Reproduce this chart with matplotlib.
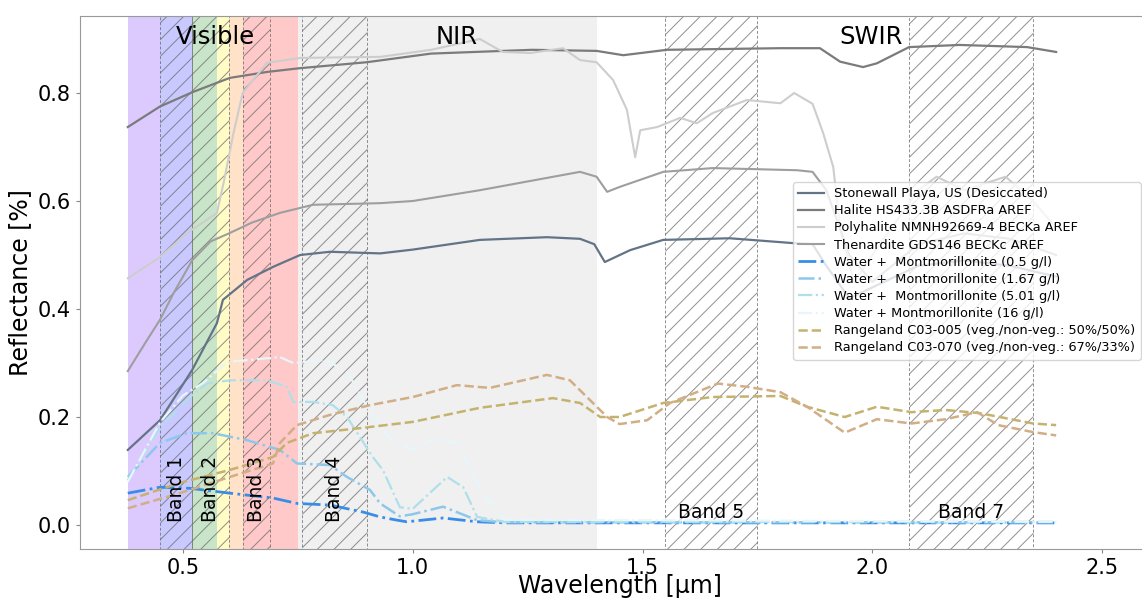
import matplotlib
matplotlib.use("Agg")
import matplotlib.pyplot as plt

# spectral regions (um) and their colours
vis_edges = [0.38, 0.45, 0.52, 0.575, 0.60, 0.63, 0.75]
vis_colors = ['#dccaff', '#c9c9ff', '#c9e5c9', '#fffcc6', '#ffe2c8', '#ffc9c9']
nir_range = [0.75, 1.40]

band_names = ['Band 1', 'Band 2', 'Band 3', 'Band 4', 'Band 5', 'Band 7']
band_lo = [0.45, 0.52, 0.63, 0.76, 1.55, 2.08]
band_hi = [0.52, 0.60, 0.69, 0.90, 1.75, 2.35]
band_rot = [90, 90, 90, 90, 0, 0]

# spectra: wavelength [um], reflectance
stonewall_w = [0.38, 0.45, 0.52, 0.574, 0.587, 0.64, 0.696, 0.755, 0.82, 0.929, 1.0, 1.146,
               1.292, 1.364, 1.395, 1.418, 1.473, 1.545, 1.69, 1.828, 1.87, 1.9, 1.95, 2.0,
               2.1, 2.2, 2.3, 2.4]
stonewall_r = [0.139, 0.194, 0.287, 0.374, 0.417, 0.454, 0.478, 0.50, 0.506, 0.503, 0.51, 0.528,
               0.533, 0.53, 0.52, 0.487, 0.509, 0.528, 0.531, 0.522, 0.52, 0.48, 0.42, 0.44,
               0.48, 0.49, 0.48, 0.46]

halite_w = [0.38, 0.45, 0.522, 0.602, 0.683, 0.755, 0.90, 1.04, 1.26, 1.40, 1.458, 1.553,
            1.80, 1.886, 1.93, 1.98, 2.01, 2.08, 2.19, 2.337, 2.40]
halite_r = [0.737, 0.775, 0.802, 0.828, 0.839, 0.846, 0.857, 0.873, 0.880, 0.878, 0.870, 0.880,
            0.883, 0.883, 0.858, 0.848, 0.855, 0.885, 0.889, 0.885, 0.876]

polyhalite_w = [0.38, 0.45, 0.508, 0.574, 0.59, 0.61, 0.63, 0.683, 0.755, 0.93, 1.04, 1.146,
                1.196, 1.255, 1.327, 1.364, 1.40, 1.436, 1.466, 1.484, 1.495, 1.532, 1.582,
                1.618, 1.653, 1.727, 1.80, 1.83, 1.87, 1.893, 1.915, 1.93, 1.96, 2.0, 2.1,
                2.14, 2.2, 2.29, 2.35, 2.4]
polyhalite_r = [0.457, 0.496, 0.54, 0.578, 0.64, 0.726, 0.80, 0.856, 0.865, 0.867, 0.88, 0.90,
                0.876, 0.874, 0.883, 0.861, 0.857, 0.824, 0.769, 0.681, 0.731, 0.737, 0.754,
                0.744, 0.763, 0.787, 0.781, 0.80, 0.78, 0.726, 0.663, 0.55, 0.45, 0.5, 0.62,
                0.645, 0.62, 0.645, 0.6, 0.55]

thenardite_w = [0.38, 0.42, 0.45, 0.48, 0.52, 0.56, 0.60, 0.65, 0.711, 0.783, 0.929, 1.0,
                1.146, 1.364, 1.40, 1.423, 1.45, 1.545, 1.653, 1.836, 1.87, 1.9, 1.95, 2.0,
                2.1, 2.2, 2.3, 2.4]
thenardite_r = [0.285, 0.34, 0.38, 0.43, 0.49, 0.525, 0.54, 0.56, 0.578, 0.593, 0.596, 0.60,
                0.62, 0.654, 0.645, 0.617, 0.626, 0.654, 0.661, 0.657, 0.654, 0.62, 0.5, 0.45,
                0.52, 0.54, 0.53, 0.5]

water05_w = [0.38, 0.45, 0.515, 0.602, 0.696, 0.748, 0.82, 0.892, 0.929, 0.966, 0.987, 1.066,
             1.14, 1.2, 1.5, 2.0, 2.4]
water05_r = [0.059, 0.070, 0.068, 0.059, 0.05, 0.04, 0.037, 0.024, 0.015, 0.009, 0.006, 0.013,
             0.006, 0.004, 0.004, 0.004, 0.004]

water167_w = [0.38, 0.45, 0.508, 0.565, 0.64, 0.711, 0.748, 0.82, 0.857, 0.907, 0.929, 0.972,
              1.0, 1.066, 1.14, 1.2, 2.4]
water167_r = [0.089, 0.152, 0.17, 0.17, 0.157, 0.139, 0.114, 0.111, 0.089, 0.065, 0.04, 0.016,
              0.02, 0.034, 0.009, 0.005, 0.005]

water501_w = [0.38, 0.45, 0.515, 0.552, 0.602, 0.683, 0.726, 0.74, 0.783, 0.826, 0.857, 0.913,
              0.935, 0.972, 1.0, 1.075, 1.11, 1.14, 1.2, 2.4]
water501_r = [0.083, 0.18, 0.237, 0.262, 0.268, 0.268, 0.256, 0.228, 0.228, 0.222, 0.2, 0.126,
              0.102, 0.033, 0.03, 0.089, 0.07, 0.015, 0.006, 0.006]

water16_w = [0.38, 0.45, 0.5, 0.544, 0.596, 0.711, 0.74, 0.813, 0.86, 0.9, 0.95, 1.0, 1.05,
             1.1, 1.15, 1.2, 2.4]
water16_r = [0.08, 0.19, 0.24, 0.263, 0.302, 0.311, 0.30, 0.306, 0.28, 0.22, 0.16, 0.14, 0.16,
             0.15, 0.06, 0.01, 0.006]

range005_w = [0.38, 0.493, 0.602, 0.696, 0.726, 0.783, 0.892, 1.0, 1.146, 1.305, 1.364, 1.408,
              1.45, 1.545, 1.653, 1.80, 1.858, 1.94, 2.01, 2.085, 2.16, 2.235, 2.35, 2.40]
range005_r = [0.046, 0.078, 0.102, 0.126, 0.152, 0.17, 0.18, 0.191, 0.217, 0.235, 0.226, 0.2,
              0.2, 0.226, 0.237, 0.239, 0.219, 0.2, 0.219, 0.209, 0.213, 0.207, 0.188, 0.185]

range070_w = [0.38, 0.493, 0.602, 0.696, 0.711, 0.748, 0.82, 0.907, 1.0, 1.096, 1.168, 1.292,
              1.342, 1.379, 1.423, 1.45, 1.51, 1.56, 1.664, 1.727, 1.80, 1.858, 1.94, 2.01,
              2.085, 2.16, 2.228, 2.274, 2.35, 2.40]
range070_r = [0.031, 0.059, 0.089, 0.114, 0.152, 0.185, 0.204, 0.222, 0.237, 0.259, 0.254, 0.278,
              0.268, 0.237, 0.2, 0.187, 0.194, 0.226, 0.262, 0.256, 0.246, 0.219, 0.171, 0.196,
              0.188, 0.196, 0.209, 0.185, 0.172, 0.166]

series = [
    ('Stonewall Playa, US (Desiccated)', stonewall_w, stonewall_r, '#637487', '-', 1.6),
    ('Halite HS433.3B ASDFRa AREF', halite_w, halite_r, '#7b7b7b', '-', 1.6),
    ('Polyhalite NMNH92669-4 BECKa AREF', polyhalite_w, polyhalite_r, '#cdcdcd', '-', 1.5),
    ('Thenardite GDS146 BECKc AREF', thenardite_w, thenardite_r, '#9e9e9e', '-', 1.5),
    ('Water +  Montmorillonite (0.5 g/l)', water05_w, water05_r, '#3a8de6', '-.', 2.0),
    ('Water +  Montmorillonite (1.67 g/l)', water167_w, water167_r, '#8dc8ea', '-.', 1.8),
    ('Water +  Montmorillonite (5.01 g/l)', water501_w, water501_r, '#ade0ea', '-.', 1.6),
    ('Water + Montmorillonite (16 g/l)', water16_w, water16_r, '#e6f6fa', '-.', 1.6),
    ('Rangeland C03-005 (veg./non-veg.: 50%/50%)', range005_w, range005_r, '#c4b26f', '--', 1.8),
    ('Rangeland C03-070 (veg./non-veg.: 67%/33%)', range070_w, range070_r, '#d1ae86', '--', 1.8),
]

plt.rcParams['hatch.linewidth'] = 0.7

fig = plt.figure(figsize=(11.42, 5.99), dpi=100)
ax = fig.add_axes([80 / 1142, 50 / 599, 1080 / 1142, 533 / 599])

# visible colour strips + NIR background
for lo, hi, c in zip(vis_edges[:-1], vis_edges[1:], vis_colors):
    ax.axvspan(lo, hi, color=c, lw=0, zorder=0)
ax.axvspan(nir_range[0], nir_range[1], color='#f0f0f0', lw=0, zorder=0)

# sensor bands
for name, lo, hi, rot in zip(band_names, band_lo, band_hi, band_rot):
    ax.axvspan(lo, hi, facecolor='none', edgecolor='#6a6a6a', hatch='//', lw=0.7,
               ls=(0, (3, 2)), alpha=0.75, zorder=1)
    ax.text((lo + hi) / 2, 0.006, name, rotation=rot, ha='center', va='bottom',
            fontsize=13.5, zorder=5)

for label, w, r, c, ls, lw in series:
    ax.plot(w, r, color=c, ls=ls, lw=lw, label=label, zorder=3)

ax.text(0.57, 0.904, 'Visible', ha='center', va='center', fontsize=17.5, zorder=5)
ax.text(1.096, 0.904, 'NIR', ha='center', va='center', fontsize=17.5, zorder=5)
ax.text(1.997, 0.904, 'SWIR', ha='center', va='center', fontsize=17.5, zorder=5)

ax.set_xlim(0.276, 2.626)
ax.set_ylim(-0.0444, 0.9426)
ax.set_xticks([0.5, 1.0, 1.5, 2.0, 2.5])
ax.set_yticks([0.0, 0.2, 0.4, 0.6, 0.8])
ax.tick_params(labelsize=15, length=3, color='#888888')
for s in ax.spines.values():
    s.set_color('#999999')
ax.set_xlabel('Wavelength [µm]', fontsize=17, labelpad=-3)
ax.set_ylabel('Reflectance [%]', fontsize=17)

ax.legend(loc='upper left', bbox_to_anchor=((793 - 80) / 1080, (549 - 182) / 533),
          borderaxespad=0, fontsize=9.3, labelspacing=0.32, framealpha=0.8)

fig.savefig('out.png', dpi=100)
